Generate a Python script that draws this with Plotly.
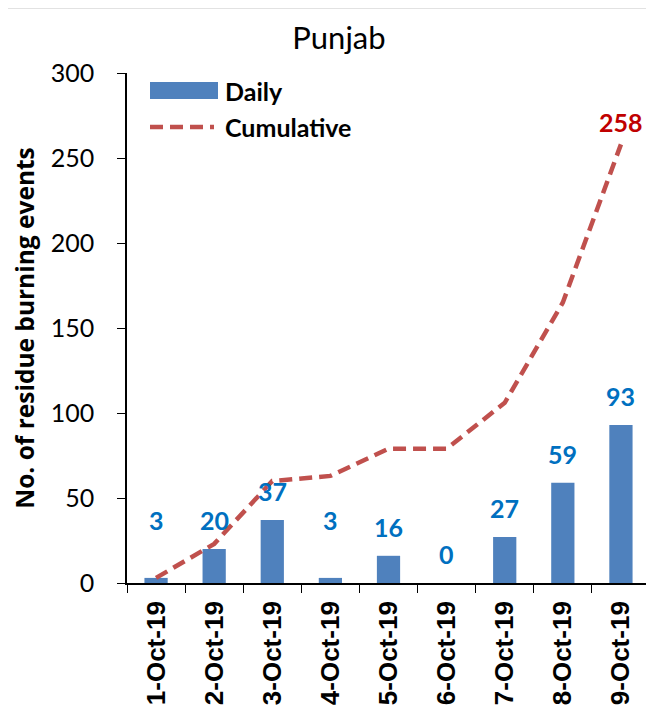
import plotly.graph_objects as go

dates = ["1-Oct-19", "2-Oct-19", "3-Oct-19", "4-Oct-19", "5-Oct-19",
         "6-Oct-19", "7-Oct-19", "8-Oct-19", "9-Oct-19"]
daily = [3, 20, 37, 3, 16, 0, 27, 59, 93]
cumulative = [3, 23, 60, 63, 79, 79, 106, 165, 258]
label_shift = [41, 12, 12, 41, 12, 12, 12, 12, 12]
y_ticks = [0, 50, 100, 150, 200, 250, 300]

FONT = "Lato"
BLUE = "#4F81BD"
RED = "#C0504D"

# figure size (page has 8px body margin)
OFF = 8
W, H = 654 - OFF, 709 - OFF
# plot area in page coordinates
PL, PR, PT, PB = 127, 650, 73, 583
L, T = PL - OFF, PT - OFF
pw, ph = PR - PL, PB - PT
R = W - L - pw
B = H - T - ph

def px(xp):  # page x -> paper
    return (xp - PL) / pw
def py(yp):  # page y -> paper
    return (PB - yp) / ph

fig = go.Figure()
fig.add_trace(go.Bar(x=dates, y=daily, name="Daily", marker_color=BLUE,
                     marker_line_width=0))
fig.add_trace(go.Scatter(x=dates, y=cumulative, name="Cumulative", mode="lines",
                         line=dict(color=RED, width=4.5, dash="13px,7px")))

annotations = []
for d, v, s in zip(dates, daily, label_shift):
    annotations.append(dict(x=d, y=v, text=f"<b>{v}</b>", showarrow=False,
                            yanchor="bottom", yshift=s,
                            font=dict(family=FONT, size=25, color="#0070C0")))
annotations.append(dict(x=dates[-1], y=cumulative[-1], text=f"<b>{cumulative[-1]}</b>",
                        showarrow=False, yanchor="bottom", yshift=5,
                        font=dict(family=FONT, size=25, color="#C00000")))

shapes = [
    dict(type="rect", xref="paper", yref="paper", x0=px(150), x1=px(218),
         y0=py(99), y1=py(82), fillcolor=BLUE, line_width=0),
    dict(type="line", xref="paper", yref="paper", x0=px(150), x1=px(214),
         y0=py(127), y1=py(127), line=dict(color=RED, width=4.5, dash="13px,7px")),
    dict(type="rect", xref="paper", yref="paper", x0=px(7), x1=px(670),
         y0=py(730), y1=py(8), line=dict(color="#D9D9D9", width=1.5), layer="below"),
]
annotations += [
    dict(xref="paper", yref="paper", x=px(223), y=py(91), text="<b>Daily</b>",
         showarrow=False, xanchor="left", yanchor="middle",
         font=dict(family=FONT, size=25, color="black")),
    dict(xref="paper", yref="paper", x=px(223), y=py(127), text="<b>Cumulative</b>",
         showarrow=False, xanchor="left", yanchor="middle",
         font=dict(family=FONT, size=25, color="black")),
]

fig.update_layout(
    width=W, height=H,
    margin=dict(l=L, r=R, t=T, b=B),
    paper_bgcolor="white", plot_bgcolor="white",
    showlegend=False,
    bargap=0.6,
    title=dict(text="Punjab", x=(339 - OFF) / W, xanchor="center",
               y=1 - (38 - OFF) / H, yanchor="middle",
               font=dict(family=FONT, size=31, color="black")),
    font=dict(family=FONT, color="black"),
    annotations=annotations,
    shapes=shapes,
    xaxis=dict(type="category", showline=True, linecolor="black", linewidth=1.5,
               ticks="outside", tickson="boundaries", ticklen=8, tickcolor="black",
               ticklabelstandoff=6,
               tickangle=-90, tickfont=dict(family="Liberation Sans", size=26, color="black"),
               tickprefix="<b>", ticksuffix="</b>", showgrid=False),
    yaxis=dict(range=[0, 300], tickvals=y_ticks, showline=True, linecolor="black",
               linewidth=1.5, ticks="outside", ticklen=8, tickcolor="black",
               ticklabelstandoff=18,
               tickfont=dict(family=FONT, size=25, color="black"), showgrid=False,
               zeroline=False,
               title=dict(text="<b>No. of residue burning events</b>", standoff=10,
                          font=dict(family="Open Sans", size=24.5, color="black"))),
)

fig.write_html("out.html")
